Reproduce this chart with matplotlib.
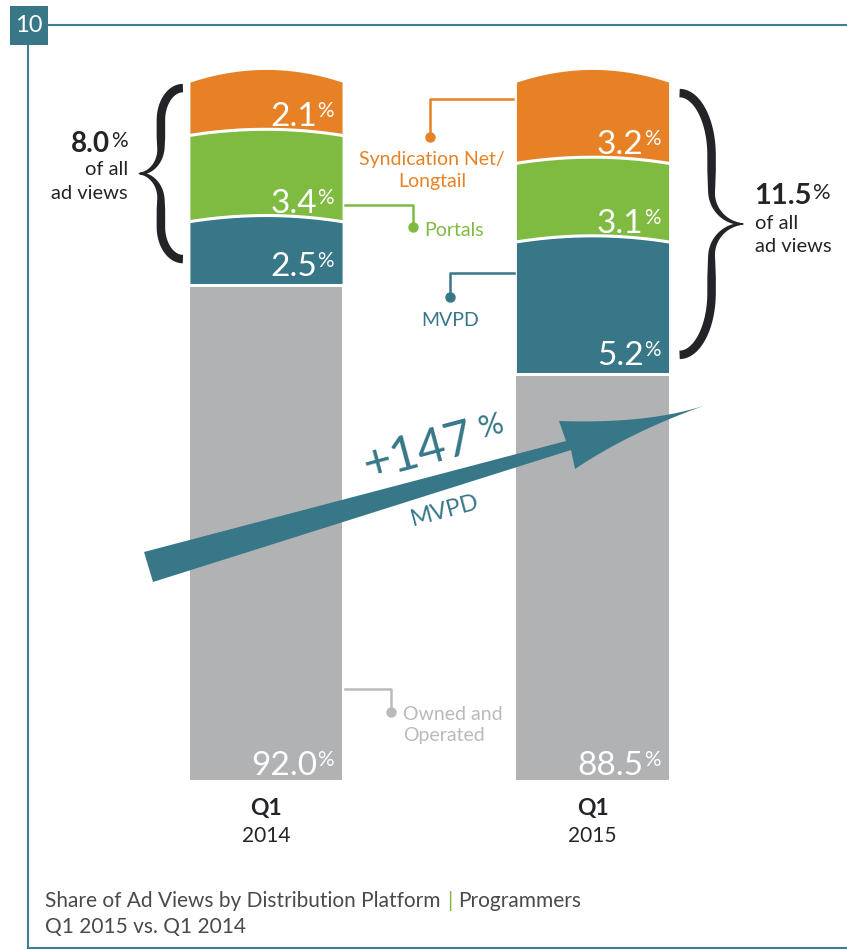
import numpy as np
import matplotlib
matplotlib.use("Agg")
import matplotlib.pyplot as plt
from matplotlib.patches import Polygon, Rectangle

plt.rcParams['font.family'] = ['Lato', 'DejaVu Sans']

# data
quarters = ["Q1", "Q1"]
years = ["2014", "2015"]
owned = [92.0, 88.5]
mvpd = [2.5, 5.2]
portals = [3.4, 3.1]
syndication = [2.1, 3.2]
non_owned_total = ["8.0", "11.5"]
mvpd_growth = "+147"

ORANGE = "#E68225"
GREEN = "#80BB41"
TEAL = "#377788"
GRAY = "#B1B2B4"
DARK = "#222428"
LIGHTGRAY = "#B9BABC"
FRAME = "#3E7E8E"
TEXT = "#4A4A4A"

W, H = 847, 950
fig = plt.figure(figsize=(W / 100, H / 100), dpi=100)
ax = fig.add_axes([30 / W, 1 - 780 / H, 817 / W, 740 / H])
ax.set_xlim(-0.7228, 1.7795)
ax.set_ylim(72.49, 101.66)
ax.axis("off")

# overlay in pixel coordinates for annotations
ov = fig.add_axes([0, 0, 1, 1])
ov.set_xlim(0, W)
ov.set_ylim(H, 0)
ov.axis("off")
renderer = fig.canvas.get_renderer()


def to_px(x, y):
    dx, dy = ax.transData.transform((x, y))
    return dx, H - dy


def text_w(s, size, weight="normal"):
    t = ov.text(0, 0, s, fontsize=size, weight=weight)
    w = t.get_window_extent(renderer).width
    t.remove()
    return w


def pct_text(x, y, num, size, color, weight="normal", ratio=0.62, ha="right",
             gap=0.5):
    psize = size * ratio
    rise = 0.72 * (size - psize) * 100 / 72
    wn = text_w(num, size, weight)
    wp = text_w("%", psize)
    x0 = x - wn - gap - wp if ha == "right" else x
    ov.text(x0, y, num, fontsize=size, color=color, ha="left", va="baseline",
            weight=weight)
    ov.text(x0 + wn + gap, y - rise, "%", fontsize=psize, color=color,
            ha="left", va="baseline")


# stacked bars with arched tops
xs = np.arange(len(years))
bw = 0.466
stack = [owned, mvpd, portals, syndication]
colors = [GRAY, TEAL, GREEN, ORANGE]
bulge_in = 0.24
bulge_top = 0.5
ymin = ax.get_ylim()[0]
for i, x0 in enumerate(xs):
    xx = np.linspace(x0 - bw / 2, x0 + bw / 2, 120)
    shape = 1 - ((xx - x0) / (bw / 2)) ** 2
    base = 0.0
    b_low = 0.0
    for k, (vals, c) in enumerate(zip(stack, colors)):
        top = base + vals[i]
        if k == 0:
            b_up = 0.0
        elif k == len(stack) - 1:
            b_up = bulge_top
        else:
            b_up = bulge_in
        ax.fill_between(xx, base + b_low * shape, top + b_up * shape,
                        color=c, lw=0, zorder=2)
        if k < len(stack) - 1:
            ax.plot(xx, top + b_up * shape, color="white", lw=2.2, zorder=3)
        # value label at the lower right of the segment
        lx, ly = to_px(x0 + bw / 2, max(base, ymin))
        off = 5 if k == 0 else 9
        pct_text(lx - 8, ly - off, f"{vals[i]:.1f}", 24, "white")
        base = top
        b_low = b_up

    cx, _ = to_px(x0, ymin)
    ov.text(cx, 815, quarters[i], fontsize=16.5, weight="bold", color=DARK,
            ha="center", va="baseline")
    ov.text(cx, 842, years[i], fontsize=15, color=DARK, ha="center",
            va="baseline")


def brace(x_end, x_tip, y_top, y_bot, r_end, r_tip, w_max=8.5, w_min=1.2):
    k = 0.55
    x_mid = x_tip + 0.5 * (x_end - x_tip)
    yc = (y_top + y_bot) / 2

    def bez(p0, p1, p2, p3, n=40):
        t = np.linspace(0, 1, n)[:, None]
        return ((1 - t) ** 3 * np.array(p0) + 3 * t * (1 - t) ** 2 * np.array(p1)
                + 3 * t ** 2 * (1 - t) * np.array(p2) + t ** 3 * np.array(p3))

    def half(y0, ya, sgn):
        a = bez((x_end, y0), (x_end - k * (x_end - x_mid), y0),
                (x_mid, y0 + sgn * (r_end - k * r_end)), (x_mid, y0 + sgn * r_end))
        b = np.linspace((x_mid, y0 + sgn * r_end), (x_mid, ya - sgn * r_tip), 30)
        c = bez((x_mid, ya - sgn * r_tip), (x_mid, ya - sgn * (r_tip - k * r_tip)),
                (x_tip + k * (x_mid - x_tip), ya), (x_tip, ya))
        return np.vstack([a, b[1:], c[1:]])

    top_half = half(y_top, yc, 1)
    bot_half = half(y_bot, yc, -1)[::-1]
    pts = np.vstack([top_half, bot_half[1:]])
    seg = np.sqrt((np.diff(pts, axis=0) ** 2).sum(axis=1))
    s = np.concatenate([[0], np.cumsum(seg)]) / seg.sum()
    w = w_min + (w_max - w_min) * np.clip(np.abs(s - 0.5) / 0.22, 0, 1) ** 0.7
    d = np.gradient(pts, axis=0)
    nrm = np.stack([-d[:, 1], d[:, 0]], axis=1)
    nrm /= np.linalg.norm(nrm, axis=1)[:, None] + 1e-9
    left = pts + nrm * w[:, None] / 2
    right = pts - nrm * w[:, None] / 2
    poly = np.vstack([left, right[::-1]])
    ov.add_patch(Polygon(poly, closed=True, color=DARK, lw=0, zorder=5))


# left brace (2014)
bl, _ = to_px(xs[0] - bw / 2, 100)
_, by_top = to_px(xs[0], 100)
_, by_bot = to_px(xs[0], owned[0])
brace(bl - 7, bl - 51, by_top + 6, by_bot - 26, 32, 26)
tip_y = (by_top + 6 + by_bot - 26) / 2
pct_text(bl - 62, tip_y - 22, non_owned_total[0], 20, DARK, weight="bold",
         ratio=0.75, gap=1)
ov.text(bl - 62, tip_y + 1, "of all", fontsize=14.5, color=DARK, ha="right",
        va="baseline")
ov.text(bl - 62, tip_y + 25, "ad views", fontsize=14.5, color=DARK,
        ha="right", va="baseline")

# right brace (2015)
br, _ = to_px(xs[1] + bw / 2, 100)
_, by_top = to_px(xs[1], 100)
_, by_bot = to_px(xs[1], owned[1])
brace(br + 11, br + 75, by_top + 11, by_bot - 19, 62, 32)
tip_y = (by_top + 11 + by_bot - 19) / 2
pct_text(br + 86, tip_y - 20, non_owned_total[1], 21, DARK, weight="bold",
         ratio=0.75, ha="left", gap=1)
ov.text(br + 86, tip_y + 5, "of all", fontsize=14.5, color=DARK, ha="left",
        va="baseline")
ov.text(br + 86, tip_y + 28, "ad views", fontsize=14.5, color=DARK,
        ha="left", va="baseline")

# callouts
lw_c = 1.8
ov.plot([513, 430, 430], [99, 99, 137], color=ORANGE, lw=lw_c, zorder=4)
ov.plot([430], [137], "o", color=ORANGE, ms=6.5, zorder=4)
ov.text(432, 165, "Syndication Net/", fontsize=14, color=ORANGE, ha="center",
        va="baseline")
ov.text(432, 187, "Longtail", fontsize=14, color=ORANGE, ha="center",
        va="baseline")

ov.plot([345, 413, 413], [205, 205, 227], color=GREEN, lw=lw_c, zorder=4)
ov.plot([413], [227], "o", color=GREEN, ms=6.5, zorder=4)
ov.text(424, 236, "Portals", fontsize=14, color=GREEN, ha="left",
        va="baseline")

ov.plot([514, 450, 450], [273, 273, 297], color=TEAL, lw=lw_c, zorder=4)
ov.plot([450], [297], "o", color=TEAL, ms=6.5, zorder=4)
ov.text(450, 326, "MVPD", fontsize=14, color=TEAL, ha="center",
        va="baseline")

ov.plot([345, 391, 391], [689, 689, 712], color=LIGHTGRAY, lw=lw_c, zorder=4)
ov.plot([391], [712], "o", color=LIGHTGRAY, ms=6.5, zorder=4)
ov.text(403, 720, "Owned and", fontsize=14, color=LIGHTGRAY, ha="left",
        va="baseline")
ov.text(403, 741, "Operated", fontsize=14, color=LIGHTGRAY, ha="left",
        va="baseline")


# growth arrow
def qbez(p0, c, p1, n=30):
    t = np.linspace(0, 1, n)[:, None]
    return (1 - t) ** 2 * np.array(p0) + 2 * t * (1 - t) * np.array(c) + t ** 2 * np.array(p1)


tip = (706, 405)
head_top = qbez((559, 421), (650, 424), tip)
head_bot = qbez(tip, (630, 432), (575, 469))
arrow = np.vstack([[(144, 552), (566, 441)], head_top, head_bot,
                   [(571, 450), (153, 582)]])
ov.add_patch(Polygon(arrow, closed=True, color=TEAL, lw=0, zorder=6))

ang = np.deg2rad(15)
x147, y147 = 368, 480
gsize, psize147 = 35, 22
ov.text(x147, y147, mvpd_growth, fontsize=gsize, color=TEAL, rotation=15,
        rotation_mode="anchor", ha="left", va="baseline")
wt = text_w(mvpd_growth, gsize) + 1
rise = 0.72 * (gsize - psize147) * 100 / 72
px_ = x147 + wt * np.cos(ang) + rise * np.sin(ang)
py_ = y147 - wt * np.sin(ang) - rise * np.cos(ang)
ov.text(px_, py_, "%", fontsize=psize147, color=TEAL, rotation=15,
        rotation_mode="anchor", ha="left", va="baseline")
ov.text(445, 511, "MVPD", fontsize=17, color=TEAL, rotation=15,
        rotation_mode="anchor", ha="center", va="center")

# frame
ov.plot([48, W], [25, 25], color=FRAME, lw=1.5, zorder=1)
ov.plot([28, 28], [45, 948], color=FRAME, lw=1.5, zorder=1)
ov.plot([28, W], [948, 948], color=FRAME, lw=1.5, zorder=1)
ov.add_patch(Rectangle((10, 6), 38, 39, color=TEAL, lw=0, zorder=2))
ov.text(29, 26, "10", fontsize=17, color="white", ha="center", va="center",
        zorder=3)

# caption
c1 = "Share of Ad Views by Distribution Platform "
cw = text_w(c1, 15)
cw2 = text_w("| ", 15)
ov.text(45, 907, c1, fontsize=15, color=TEXT, ha="left", va="baseline")
ov.text(45 + cw + 1, 907, "|", fontsize=15, color=GREEN, ha="left",
        va="baseline")
ov.text(45 + cw + cw2 + 2, 907, "Programmers", fontsize=15, color=TEXT,
        ha="left", va="baseline")
ov.text(45, 933, "Q1 2015 vs. Q1 2014", fontsize=15, color=TEXT, ha="left",
        va="baseline")

fig.savefig("out.png", dpi=100)
